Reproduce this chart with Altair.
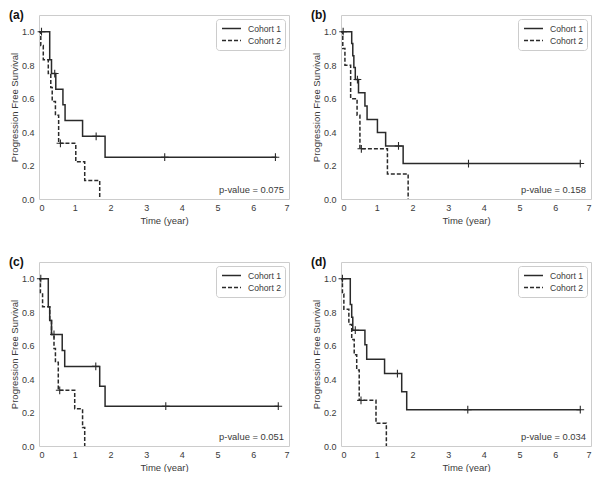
import altair as alt
import pandas as pd

COHORTS = ["Cohort 1", "Cohort 2"]
PANELS = ["(a)", "(b)", "(c)", "(d)"]
P_VALUES = ["p-value = 0.075", "p-value = 0.158", "p-value = 0.051", "p-value = 0.034"]
X_TICKS = [0, 1, 2, 3, 4, 5, 6, 7]
Y_TICKS = [0.0, 0.2, 0.4, 0.6, 0.8, 1.0]

# Panel (a)
A1_T = [0, 0.30, 0.35, 0.47, 0.67, 0.73, 1.22, 1.85, 6.65]
A1_S = [1.0, 0.833, 0.75, 0.656, 0.563, 0.469, 0.375, 0.25, 0.25]
A1_CT = [0.07, 0.44, 1.60, 3.52, 6.62]
A1_CS = [1.0, 0.75, 0.375, 0.25, 0.25]
A2_T = [0, 0.05, 0.12, 0.26, 0.33, 0.37, 0.46, 0.55, 1.03, 1.28, 1.70]
A2_S = [1.0, 0.917, 0.833, 0.75, 0.667, 0.583, 0.5, 0.333, 0.222, 0.111, 0.0]
A2_CT = [0.60]
A2_CS = [0.333]

# Panel (b)
B1_T = [0, 0.30, 0.33, 0.36, 0.40, 0.49, 0.67, 0.73, 1.02, 1.25, 1.74, 6.72]
B1_S = [1.0, 0.929, 0.857, 0.786, 0.714, 0.635, 0.556, 0.476, 0.397, 0.317, 0.212, 0.212]
B1_CT = [0.06, 0.46, 1.61, 3.57, 6.70]
B1_CS = [1.0, 0.714, 0.317, 0.212, 0.212]
B2_T = [0, 0.05, 0.11, 0.27, 0.45, 0.53, 1.30, 1.88]
B2_S = [1.0, 0.9, 0.8, 0.6, 0.5, 0.3, 0.15, 0.0]
B2_CT = [0.57]
B2_CS = [0.3]

# Panel (c)
C1_T = [0, 0.26, 0.30, 0.35, 0.65, 0.72, 1.70, 1.85, 6.72]
C1_S = [1.0, 0.833, 0.75, 0.667, 0.571, 0.476, 0.357, 0.238, 0.238]
C1_CT = [0.05, 0.42, 1.59, 3.55, 6.70]
C1_CS = [1.0, 0.667, 0.476, 0.238, 0.238]
C2_T = [0, 0.04, 0.10, 0.30, 0.35, 0.42, 0.46, 0.54, 1.00, 1.22, 1.28]
C2_S = [1.0, 0.917, 0.833, 0.75, 0.667, 0.583, 0.5, 0.333, 0.222, 0.111, 0.0]
C2_CT = [0.58]
C2_CS = [0.333]

# Panel (d)
D1_T = [0, 0.26, 0.30, 0.33, 0.67, 0.72, 1.22, 1.70, 1.84, 6.72]
D1_S = [1.0, 0.846, 0.769, 0.692, 0.606, 0.519, 0.433, 0.325, 0.217, 0.217]
D1_CT = [0.04, 0.40, 1.58, 3.55, 6.70]
D1_CS = [1.0, 0.692, 0.433, 0.217, 0.217]
D2_T = [0, 0.04, 0.08, 0.22, 0.30, 0.37, 0.44, 0.51, 0.98, 1.27]
D2_S = [1.0, 0.909, 0.818, 0.727, 0.636, 0.545, 0.455, 0.273, 0.136, 0.0]
D2_CT = [0.56]
D2_CS = [0.273]

CURVES = {
    "(a)": [(A1_T, A1_S, A1_CT, A1_CS), (A2_T, A2_S, A2_CT, A2_CS)],
    "(b)": [(B1_T, B1_S, B1_CT, B1_CS), (B2_T, B2_S, B2_CT, B2_CS)],
    "(c)": [(C1_T, C1_S, C1_CT, C1_CS), (C2_T, C2_S, C2_CT, C2_CS)],
    "(d)": [(D1_T, D1_S, D1_CT, D1_CS), (D2_T, D2_S, D2_CT, D2_CS)],
}

LINE = "#2a2a2a"
TEXT = "#3a3a3a"
FONT = "Liberation Sans"
W, H = 250, 184
PLUS = "M-1,0L1,0M0,-1L0,1"
DASHSYM = "M-2,0L2,0"


def panel(label, pval):
    rows, cens = [], []
    for cohort, (t, s, ct, cs) in zip(COHORTS, CURVES[label]):
        rows += [{"t": a, "s": b, "cohort": cohort} for a, b in zip(t, s)]
        cens += [{"t": a, "s": b, "cohort": cohort} for a, b in zip(ct, cs)]
    curve_df = pd.DataFrame(rows)
    cens_df = pd.DataFrame(cens)

    xs = alt.X("t:Q", scale=alt.Scale(domain=[0, 7], nice=False),
               axis=alt.Axis(values=X_TICKS, title="Time (year)", format="d",
                             labelPadding=4))
    ys = alt.Y("s:Q", scale=alt.Scale(domain=[0, 1.1], nice=False),
               axis=alt.Axis(values=Y_TICKS, format=".1f", title="Progression Free Survival",
                             labelPadding=5, titlePadding=2))

    lines = alt.Chart(curve_df).mark_line(
        interpolate="step-after", color=LINE, strokeWidth=1.5
    ).encode(
        x=xs, y=ys,
        strokeDash=alt.StrokeDash(
            "cohort:N",
            scale=alt.Scale(domain=COHORTS, range=[[1, 0], [4, 2]]),
            legend=alt.Legend(
                title=None, orient="top-right", offset=4,
                strokeColor="#cccccc", cornerRadius=3, padding=4,
                fillColor="white", symbolType=DASHSYM,
                symbolStrokeColor=LINE, symbolStrokeWidth=1.5,
                symbolSize=90, symbolOffset=6, labelFontSize=8.6,
                labelColor=TEXT, labelFont=FONT, rowPadding=1, labelOffset=11,
            ),
        ),
    )
    marks = alt.Chart(cens_df).mark_point(
        shape=PLUS, size=60, filled=False, color=LINE, strokeWidth=1.1, opacity=1
    ).encode(x=xs, y=ys)

    one = pd.DataFrame({"p": [pval], "lab": [label]})
    ptext = alt.Chart(one).mark_text(
        align="right", baseline="bottom", fontSize=9.4, color=TEXT, font=FONT
    ).encode(x=alt.value(W - 5), y=alt.value(H - 4), text="p:N")
    ltext = alt.Chart(one).mark_text(
        align="left", baseline="top", fontSize=12, fontWeight="bold", color="#111111", font=FONT
    ).encode(x=alt.value(-30), y=alt.value(-5), text="lab:N")

    return alt.layer(lines, marks, ptext, ltext).properties(width=W, height=H)


charts = [panel(l, p) for l, p in zip(PANELS, P_VALUES)]
row1 = alt.hconcat(charts[0], charts[1], spacing=20).resolve_scale(strokeDash="independent").resolve_legend(strokeDash="independent")
row2 = alt.hconcat(charts[2], charts[3], spacing=20).resolve_scale(strokeDash="independent").resolve_legend(strokeDash="independent")
chart = alt.vconcat(row1, row2, spacing=30).resolve_scale(
    strokeDash="independent"
).resolve_legend(strokeDash="independent").properties(padding=0).configure_axis(
    grid=False, domain=False, ticks=False, labelFontSize=9, titleFontSize=9.5,
    labelColor=TEXT, titleColor=TEXT, labelFont=FONT, titleFont=FONT,
    titleFontWeight="normal", titlePadding=3,
).configure_view(stroke="#cccccc", strokeWidth=1)

chart.save("out.html", embed_options={"renderer": "svg", "actions": False})
